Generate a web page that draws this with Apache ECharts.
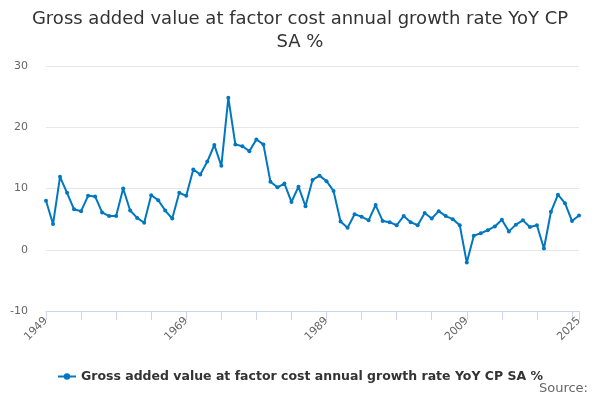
<!DOCTYPE html>
<html>
<head>
<meta charset="utf-8">
<script src="https://cdn.jsdelivr.net/npm/echarts@6/dist/echarts.min.js"></script>
<style>
  html, body { margin: 0; padding: 0; background: #fff; }
  #chart { width: 600px; height: 400px; }
</style>
</head>
<body>
<div id="chart"></div>
<script>
const years = [];
for (let y = 1949; y <= 2025; y++) years.push(String(y));

// growth rate, % YoY
const growth = [
  8.0, 4.2, 11.9, 9.3, 6.6, 6.3, 8.8, 8.7, 6.1, 5.5,
  5.5, 10.0, 6.4, 5.2, 4.4, 8.9, 8.1, 6.4, 5.1, 9.3,
  8.8, 13.1, 12.3, 14.4, 17.1, 13.7, 24.8, 17.2, 16.9, 16.1,
  18.0, 17.2, 11.1, 10.2, 10.8, 7.8, 10.3, 7.1, 11.4, 12.1,
  11.2, 9.6, 4.6, 3.6, 5.8, 5.4, 4.8, 7.3, 4.7, 4.5,
  4.0, 5.5, 4.5, 4.0, 6.0, 5.1, 6.3, 5.5, 5.0, 4.0,
  -2.1, 2.3, 2.7, 3.2, 3.8, 4.9, 3.0, 4.1, 4.8, 3.7,
  4.0, 0.2, 6.2, 9.0, 7.6, 4.7, 5.6
];

const seriesName = 'Gross added value at factor cost annual growth rate YoY CP SA %';
const lineColor = '#0077c0';
const font = 'DejaVu Sans';

const chart = echarts.init(document.getElementById('chart'));
const last = years.length - 1;

chart.setOption({
  animation: false,
  title: {
    text: 'Gross added value at factor cost annual growth rate YoY CP\nSA %',
    left: 'center',
    top: 3,
    textStyle: { fontFamily: font, fontSize: 18, fontWeight: 'normal', color: '#333', lineHeight: 23 }
  },
  graphic: [{
    type: 'text',
    right: 12,
    top: 382,
    style: { text: 'Source:', font: '13px "DejaVu Sans"', fill: '#666' }
  }],
  legend: {
    data: [seriesName],
    top: 365,
    left: 'center',
    itemWidth: 18,
    itemHeight: 8,
    itemGap: 6,
    textStyle: { fontFamily: font, fontSize: 12.5, fontWeight: 'bold', color: '#333' }
  },
  grid: { left: 46, right: 21, top: 66, height: 245 },
  xAxis: {
    type: 'category',
    data: years,
    boundaryGap: false,
    axisLine: { onZero: false, lineStyle: { color: '#ccd6eb' } },
    axisTick: {
      alignWithLabel: true,
      length: 9,
      lineStyle: { color: '#ccd6eb' },
      interval: (i) => i % 5 === 0 || i === last
    },
    axisLabel: {
      rotate: 45,
      color: '#666',
      fontFamily: font,
      fontSize: 11,
      margin: 8,
      interval: (i) => i % 20 === 0 || i === last
    },
    splitLine: { show: false }
  },
  yAxis: {
    type: 'value',
    min: -10,
    max: 30,
    interval: 10,
    axisLine: { show: false },
    axisTick: { show: false },
    axisLabel: { color: '#666', fontFamily: font, fontSize: 11, margin: 18 },
    splitLine: { lineStyle: { color: '#e6e6e6' } }
  },
  series: [{
    name: seriesName,
    type: 'line',
    data: growth,
    color: lineColor,
    lineStyle: { width: 2, color: lineColor },
    itemStyle: { color: lineColor },
    symbol: 'circle',
    symbolSize: 4,
    showAllSymbol: true
  }]
});
</script>
</body>
</html>
